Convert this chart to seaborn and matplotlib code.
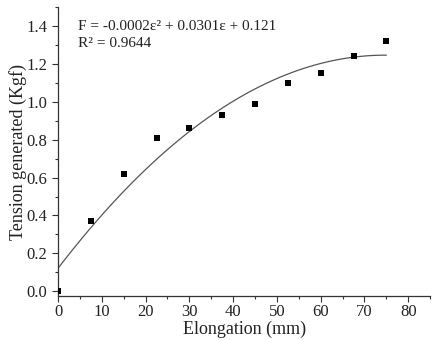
import numpy as np
import pandas as pd
import matplotlib
matplotlib.use("Agg")
import matplotlib.pyplot as plt
import seaborn as sns
from matplotlib.ticker import MultipleLocator

elongation = [0, 7.5, 15, 22.5, 30, 37.5, 45, 52.5, 60, 67.5, 75]
tension = [0.0, 0.37, 0.62, 0.81, 0.86, 0.93, 0.99, 1.10, 1.15, 1.24, 1.32]
x_ticks = [0, 10, 20, 30, 40, 50, 60, 70, 80]
y_ticks = [0.0, 0.2, 0.4, 0.6, 0.8, 1.0, 1.2, 1.4]

df = pd.DataFrame({"Elongation": elongation, "Tension": tension})

sns.set_style("ticks")
plt.rcParams['font.family'] = ['Liberation Serif', 'DejaVu Serif']

fig = plt.figure(figsize=(4.43, 3.4), dpi=100)
ax = fig.add_axes([0.131, 0.129, 0.84, 0.85])

sns.regplot(data=df, x="Elongation", y="Tension", order=2, ci=None, ax=ax,
            truncate=True, marker="s",
            scatter_kws=dict(s=20, color="black", linewidths=0, zorder=3, alpha=1),
            line_kws=dict(color="#555555", lw=0.9))

ax.set_xlim(0, 85)
ax.set_ylim(-0.026, 1.5)
ax.set_xticks(x_ticks)
ax.set_yticks(y_ticks)
ax.set_yticklabels([f"{v:.1f}" for v in y_ticks])
ax.xaxis.set_minor_locator(MultipleLocator(5))
ax.yaxis.set_minor_locator(MultipleLocator(0.1))
ax.tick_params(which="major", direction="out", length=4, width=0.8, labelsize=12, colors="#333333", labelcolor="#222222")
ax.tick_params(axis="x", which="major", pad=2)
ax.tick_params(which="minor", direction="out", length=2.5, width=0.8, colors="#333333")
for s in ["top", "right"]:
    ax.spines[s].set_visible(False)
for s in ["left", "bottom"]:
    ax.spines[s].set_color("#333333")
    ax.spines[s].set_linewidth(0.9)

ax.set_xlabel("Elongation (mm)", fontsize=13, color="#222222", labelpad=0)
ax.set_ylabel("Tension generated (Kgf)", fontsize=13, color="#222222", labelpad=0)

ax.text(0.053, 0.955, "F = -0.0002ε² + 0.0301ε + 0.121\nR² = 0.9644",
        transform=ax.transAxes, fontsize=11, va="top", ha="left",
        color="#222222", linespacing=1.4)

fig.savefig("out.png", dpi=100)
